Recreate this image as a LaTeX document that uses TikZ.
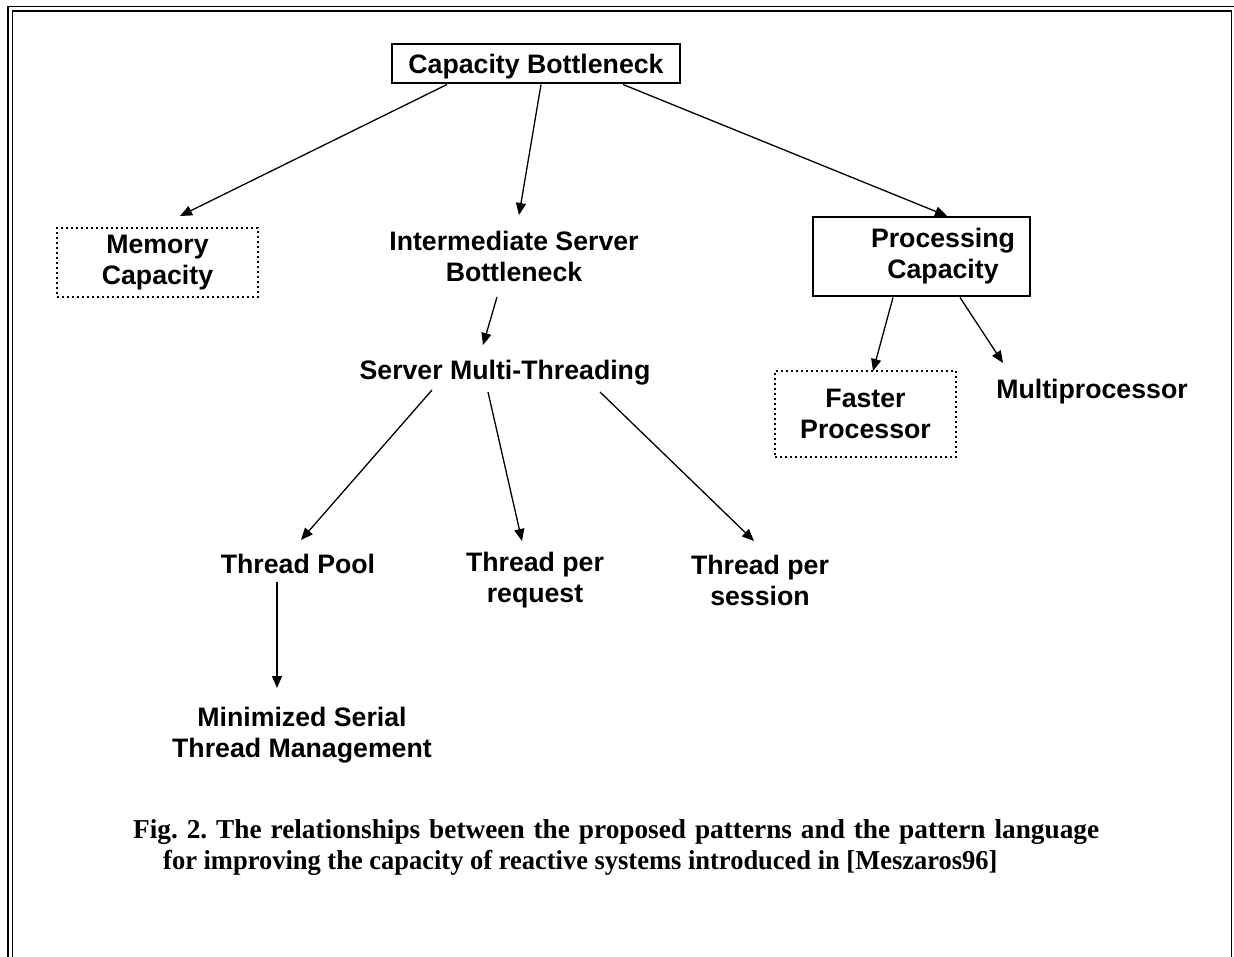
\documentclass[tikz,border=0pt]{standalone}
\usepackage{graphicx}
\usepackage{fontspec}
\setmainfont{Liberation Sans}
\newfontfamily\capfont{Liberation Serif}
\usetikzlibrary{arrows.meta,calc}
\frenchspacing
\begin{document}
\begin{tikzpicture}[x=1pt,y=-1pt,
  lbl/.style={font=\bfseries\fontsize{26.7}{31}\selectfont, align=center, inner sep=0pt},
  boxed/.style={draw, line width=2pt, inner sep=0pt},
  dotbox/.style={lbl, draw, line width=2pt, dash pattern=on 2pt off 3pt},
  arr/.style={line width=1.3pt, -{Triangle[length=12pt,width=10pt]}},
  framelin/.style={line width=1.8pt},
  capstyle/.style={font=\capfont\bfseries\fontsize{27.3}{31}\selectfont, inner sep=0pt, anchor=west}]
\useasboundingbox (0,0) rectangle (1234,957);
% frame
\draw[framelin] (8,957) -- (8,6.5) -- (1234,6.5);
\draw[framelin] (12.5,957) -- (12.5,11) -- (1231.5,11) -- (1231.5,957);
% nodes
\node[boxed, lbl, text depth=0pt, minimum width=288pt, minimum height=39pt] (cb) at (536,63.5) {Capacity Bottleneck};
\node[dotbox, minimum width=201pt, minimum height=69pt] (mem) at (157.5,262.5) {Memory\\Capacity};
\node[lbl] (isb) at (514,256) {Intermediate Server\\Bottleneck};
\node[boxed, minimum width=217pt, minimum height=79pt] (pc) at (921.5,256.5) {};
\node[lbl] (pct) at (943,256) {Processing\\Capacity};
\node[lbl] (smt) at (505,373) {Server Multi-Threading};
\node[dotbox, minimum width=181pt, minimum height=86pt] (fp) at (865.5,414) {Faster\\Processor};
\node[lbl] (mp) at (1092,392) {Multiprocessor};
\node[lbl] (tp) at (298,564) {Thread Pool};
\node[lbl] (tpr) at (535,580) {Thread per\\request};
\node[lbl] (tps) at (760,580) {Thread per\\session};
\node[lbl] (msm) at (302,735) {Minimized Serial\\Thread Management};
% connectors
\draw[arr] ($(cb.south)+(-89,0.5)$) -- ($(mem.north)+(22.5,-11)$);
\draw[arr] ($(cb.south)+(5,0.5)$) -- ($(isb)+(5,-41)$);
\draw[arr] ($(cb.south)+(87,0.5)$) -- ($(pc.north)+(25.5,0)$);
\draw[arr] ($(isb)+(-17,41)$) -- ($(smt)+(-22,-28)$);
\draw[arr] ($(smt)+(-73,17)$) -- ($(tp)+(3,-24)$);
\draw[arr] ($(smt)+(-17,19)$) -- ($(tpr)+(-13,-39)$);
\draw[arr] ($(smt)+(95,19)$) -- ($(tps)+(-6,-39)$);
\draw[arr] ($(pc.south)+(-28.5,0.5)$) -- ($(fp.north)+(7.5,1)$);
\draw[arr] ($(pc.south)+(38.5,0.5)$) -- ($(mp)+(-89,-29)$);
\draw[arr] ($(tp)+(-21,18)$) -- ($(msm)+(-25,-47)$);
% caption
\node[capstyle] (cap1) at (133,832) {\makebox[966pt][s]{Fig. 2. The relationships between the proposed patterns and the pattern language}};
\node[capstyle] (cap2) at (163,863) {\scalebox{0.97}[1]{for improving the capacity of reactive systems introduced in [Meszaros96]}};
\end{tikzpicture}
\end{document}
